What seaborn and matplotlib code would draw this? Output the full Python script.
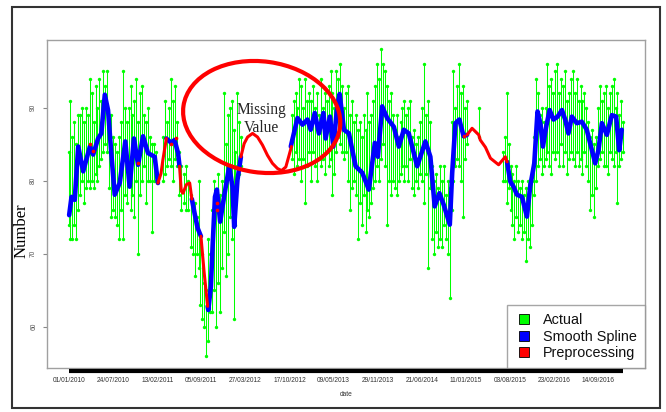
import numpy as np
import pandas as pd
import matplotlib
matplotlib.use("Agg")
import matplotlib.pyplot as plt
import matplotlib.transforms as mtransforms
import seaborn as sns
from matplotlib.patches import Ellipse, Rectangle
from matplotlib.lines import Line2D

# ---------------- data (days since 01/01/2010) ----------------
tick_days = [0, 204, 408, 612, 816, 1020, 1224, 1428, 1632, 1836, 2040, 2244, 2448]
tick_labels = ["01/01/2010", "24/07/2010", "13/02/2011", "05/09/2011", "27/03/2012",
               "17/10/2012", "09/05/2013", "29/11/2013", "21/06/2014", "11/01/2015",
               "03/08/2015", "23/02/2016", "14/09/2016"]
y_ticks = [60, 70, 80, 90]

actual_day = [0, 5, 14, 23, 32, 41, 50, 59, 68, 77, 86, 95, 104, 113, 122, 131, 140, 149, 158, 167,
              176, 185, 194, 203, 212, 221, 230, 239, 248, 257, 266, 275, 284, 293, 302, 311, 320, 329,
              338, 347, 356, 365, 374, 383, 392, 401, 436, 445, 454, 463, 472, 481, 490, 499, 510, 520,
              530, 540, 550, 563, 572, 581, 590, 599, 608, 617, 626, 635, 644, 653, 662, 671, 680, 689,
              698, 707, 716, 725, 734, 743, 752, 761, 770, 779, 788, 797,
              1030, 1039, 1048, 1057, 1066, 1075, 1084, 1093, 1102, 1111, 1120, 1129, 1138, 1147, 1156,
              1165, 1174, 1183, 1192, 1201, 1210, 1219, 1228, 1237, 1246, 1255, 1264, 1273, 1282, 1291,
              1300, 1309, 1318, 1327, 1336, 1345, 1354, 1363, 1372, 1381, 1390, 1399, 1408, 1417, 1426,
              1435, 1444, 1453, 1462, 1471, 1480, 1489, 1498, 1507, 1516, 1525, 1534, 1543, 1552, 1561,
              1570, 1579, 1588, 1597, 1606, 1615, 1624, 1633, 1642, 1651, 1660, 1669, 1680, 1689, 1698,
              1707, 1716, 1725, 1734, 1743, 1752, 1761, 1770, 1779, 1788, 1797, 1806, 1815, 1824, 1833,
              1842, 1897,
              2007, 2016, 2025, 2034, 2043, 2052, 2061, 2070, 2079, 2088, 2097, 2106, 2115, 2124, 2133,
              2142, 2151, 2160, 2169, 2178, 2187, 2196, 2205, 2214, 2223, 2232, 2241, 2250, 2259, 2268,
              2277, 2286, 2295, 2304, 2313, 2322, 2331, 2340, 2349, 2358, 2367, 2376, 2385, 2394, 2403,
              2412, 2421, 2430, 2439, 2448, 2457, 2466, 2475, 2484, 2493, 2502, 2511, 2520, 2529, 2538,
              2547, 2556, 2563]
actual_hi = [84, 91, 86, 88, 85, 89, 89, 90, 88, 90, 89, 94, 92, 88, 93, 90, 94, 91, 95, 93,
             95, 88, 89, 86, 85, 84, 86, 88, 95, 90, 88, 90, 93, 89, 91, 94, 88, 92,
             93, 89, 88, 90, 86, 85, 85, 84, 86, 91, 88, 90, 94, 91, 93, 88, 84, 82,
             81, 82, 80, 78, 77, 77, 75, 80, 72, 70, 66, 65, 72, 70, 76, 80, 78, 81,
             78, 80, 92, 85, 89, 90, 91, 87, 84, 92, 88, 86,
             89, 91, 92, 90, 94, 93, 90, 94, 91, 92, 91, 93, 90, 92, 89,
             94, 90, 92, 91, 93, 95, 92, 90, 95, 94, 96, 93, 90, 92, 93,
             89, 91, 88, 89, 87, 88, 86, 89, 87, 92, 88, 89, 91, 93, 96,
             94, 98, 96, 95, 93, 91, 92, 89, 87, 89, 86, 88, 90, 91, 89,
             90, 91, 86, 87, 85, 86, 88, 90, 96, 89, 91, 88, 82, 80, 81,
             79, 82, 80, 82, 78, 80, 79, 88, 95, 90, 93, 96, 92, 93, 90,
             91, 90,
             84, 86, 92, 85, 82, 81, 80, 82, 80, 79, 80, 78, 79, 80, 79,
             80, 86, 94, 92, 89, 90, 88, 90, 96, 93, 94, 92, 95, 96, 92,
             94, 93, 95, 91, 92, 94, 95, 92, 94, 91, 93, 91, 92, 90, 88,
             86, 87, 85, 86, 90, 93, 91, 92, 93, 90, 92, 93, 94, 90, 92,
             89, 91, 88]
actual_lo = [74, 72, 72, 74, 72, 76, 78, 80, 77, 79, 80, 79, 80, 79, 81, 80, 82, 83, 84, 85,
             84, 79, 75, 76, 75, 74, 72, 76, 72, 78, 77, 80, 76, 78, 75, 80, 70, 78,
             80, 82, 77, 80, 80, 73, 80, 80, 80, 81, 82, 83, 82, 80, 83, 82, 78, 76,
             77, 76, 76, 71, 70, 67, 70, 68, 63, 61, 60, 56, 58, 62, 62, 65, 60, 66,
             62, 68, 73, 67, 70, 75, 72, 61, 74, 82, 81, 82,
             83, 81, 84, 82, 83, 80, 83, 77, 82, 84, 80, 84, 82, 80, 83,
             82, 83, 81, 84, 82, 83, 78, 81, 84, 86, 85, 84, 83, 84, 80,
             76, 79, 80, 78, 72, 77, 74, 78, 73, 76, 75, 77, 79, 80, 82,
             80, 83, 85, 82, 74, 80, 78, 80, 79, 78, 80, 81, 82, 80, 82,
             80, 83, 79, 78, 80, 79, 81, 80, 77, 81, 68, 79, 72, 70, 73,
             71, 72, 71, 74, 72, 70, 64, 76, 80, 82, 83, 82, 80, 75, 83,
             85, 86,
             80, 80, 77, 79, 76, 74, 72, 75, 73, 74, 72, 73, 69, 72, 71,
             74, 78, 80, 82, 83, 81, 82, 83, 84, 82, 81, 84, 83, 84, 82,
             85, 82, 84, 81, 83, 84, 83, 82, 84, 82, 83, 81, 84, 82, 80,
             76, 78, 75, 79, 82, 83, 84, 82, 82, 81, 84, 83, 82, 84, 77,
             82, 83, 84]

# Smooth spline (blue), broken into observed stretches
spline_day = [0, 11, 26, 42, 65, 96, 111, 134, 149, 165, 180, 195, 211, 234, 260, 280, 300, 319, 342, 365, 396, 411,
              450, 473, 488, 504, 511,
              568, 581, 595, 610,
              641, 644, 656, 664, 675, 684, 699, 717, 741, 756, 764, 779, 795,
              1026, 1033, 1057, 1080, 1103, 1118, 1137, 1156, 1177, 1187, 1207, 1223, 1241, 1252, 1272, 1295,
              1326, 1357, 1387, 1415, 1429, 1449, 1472, 1503, 1526, 1549, 1572, 1611, 1649, 1672, 1692, 1714,
              1734, 1762, 1773, 1788, 1806, 1826, 1842,
              2027, 2042, 2057, 2073, 2096, 2119, 2134, 2153, 2168, 2181, 2193, 2208, 2224, 2242, 2261, 2281,
              2296, 2311, 2327, 2350, 2373, 2396, 2435, 2450, 2466, 2489, 2512, 2532, 2546, 2558]
spline_val = [75.3, 77.8, 77.4, 84.7, 81.3, 84.7, 83.6, 85.8, 86.5, 91.8, 89.7, 83.8, 78.1, 79.7, 85.4, 79.2, 85.8, 82.2, 86.1, 83.8, 83.3, 79.7,
              85.8, 85.2, 85.6, 83.8, 82.0,
              77.5, 75.5, 73.5, 72.4,
              62.8, 62.3, 65.5, 71.0, 77.8, 78.8, 74.4, 77.8, 82.0, 79.2, 73.7, 80.1, 83.3,
              84.7, 85.6, 88.6, 87.7, 88.4, 87.0, 89.3, 86.5, 89.3, 85.8, 88.8, 84.7, 90.2, 91.9, 87.0, 86.5,
              82.0, 81.1, 78.8, 85.2, 83.3, 90.2, 88.6, 87.4, 84.7, 87.0, 86.5, 82.0, 85.4, 83.3, 76.5, 78.3,
              76.7, 74.0, 81.1, 87.9, 88.4, 86.1, 86.3,
              82.6, 79.9, 79.2, 78.1, 77.8, 75.1, 79.2, 82.4, 89.5, 87.9, 84.7, 87.4, 89.7, 88.4, 88.8, 89.7,
              88.4, 86.5, 88.8, 87.9, 88.1, 87.0, 82.4, 84.2, 87.9, 86.3, 89.0, 88.8, 84.2, 87.0]
spline_seg = [1] * 22 + [2] * 5 + [3] * 4 + [4] * 13 + [5] * 39 + [6] * 30

# Preprocessing (red) stretches filling the gaps
prep_day = [411, 425, 434, 450,
            511, 519, 527, 543, 558, 568,
            610, 625, 641,
            795, 810, 826, 849, 872, 895, 918, 941, 964, 983, 1003, 1018, 1029,
            1842, 1865, 1896, 1903, 1927, 1950, 1988, 2019, 2027]
prep_val = [79.7, 81.0, 82.9, 85.8,
            82.0, 78.6, 78.3, 79.5, 79.7, 77.5,
            72.4, 67.4, 62.8,
            83.3, 85.1, 86.0, 86.5, 86.0, 84.9, 83.5, 82.4, 81.7, 81.4, 81.9, 83.5, 84.7,
            86.3, 87.2, 86.3, 85.6, 84.6, 83.1, 82.2, 83.3, 82.6]
prep_seg = [1] * 4 + [2] * 6 + [3] * 3 + [4] * 13 + [5] * 9

prep_dot_day = [96, 111, 319, 473, 493, 684, 684, 1826]
prep_dot_val = [85.1, 84.1, 82.4, 85.1, 85.9, 77.0, 76.0, 86.1]

# ---------------- figure ----------------
W, H = 666, 412
sns.set_style("white")
plt.rcParams["font.family"] = ["Liberation Sans", "DejaVu Sans"]

fig = plt.figure(figsize=(W / 100, H / 100), dpi=100)
ax = fig.add_axes([47 / W, 1 - 368 / H, (645 - 47) / W, (368 - 40) / H])

GREEN, BLUE, RED = "#00ff00", "#0000ff", "#ff0000"

ax.vlines(actual_day, actual_lo, actual_hi, color=GREEN, lw=0.75, zorder=1)
df_act = pd.DataFrame({"day": actual_day * 2, "val": actual_hi + actual_lo})
sns.scatterplot(data=df_act, x="day", y="val", color=GREEN, s=6, marker="o",
                linewidth=0, ax=ax, zorder=2, legend=False)

df_sp = pd.DataFrame({"day": spline_day, "val": spline_val, "seg": spline_seg})
sns.lineplot(data=df_sp, x="day", y="val", units="seg", estimator=None, sort=False,
             color=BLUE, lw=3.3, ax=ax, zorder=3, legend=False)

df_pr = pd.DataFrame({"day": prep_day, "val": prep_val, "seg": prep_seg})
sns.lineplot(data=df_pr, x="day", y="val", units="seg", estimator=None, sort=False,
             color=RED, lw=2.2, ax=ax, zorder=4, legend=False)
sns.scatterplot(x=prep_dot_day, y=prep_dot_val, color=RED, s=7, linewidth=0, ax=ax,
                zorder=5, legend=False)

# axes ranges (R style 4% padding)
xmin, xmax = min(actual_day), max(actual_day)
pad = 0.04 * (xmax - xmin)
ax.set_xlim(xmin - pad, xmax + pad)
ax.set_ylim(54.35, 99.3)

ax.set_xticks(tick_days)
ax.set_xticklabels(tick_labels)
ax.set_yticks(y_ticks)
ax.set_yticklabels([str(v) for v in y_ticks], rotation=90, va="center")
ax.tick_params(axis="x", length=0, pad=6.3, labelsize=4.8, labelcolor="#333333")
ax.tick_params(axis="y", left=True, length=2.9, width=0.8, color="#888888", pad=4.2,
               labelsize=4.8, labelcolor="#555555")
for sp in ax.spines.values():
    sp.set_color("#a0a0a0")
    sp.set_linewidth(1.0)

# dense daily tick band below the axis
trans = mtransforms.blended_transform_factory(ax.transData, ax.transAxes)
ax.plot([xmin, xmax], [-0.0095, -0.0095], transform=trans, color="black", lw=3.0,
        solid_capstyle="butt", clip_on=False, zorder=6)

ax.set_xlabel("date", fontsize=4.8, color="#333333", labelpad=5.0)
ax.set_ylabel("Number", fontsize=12, family=["Liberation Serif", "DejaVu Serif"], color="black")
ax.yaxis.set_label_coords(-0.029, 0.42)

# legend
handles = [Line2D([], [], marker="s", linestyle="None", markerfacecolor=c,
                  markeredgecolor="black", markeredgewidth=0.6, markersize=6.5)
           for c in (GREEN, BLUE, RED)]
leg = ax.legend(handles, ["Actual", "Smooth Spline", "Preprocessing"], loc="lower right",
                bbox_to_anchor=(1.0, 0.0), borderaxespad=0, fontsize=10.4, frameon=True,
                fancybox=False, edgecolor="#909090", borderpad=0.57, labelspacing=0.15,
                handlelength=1.2, handletextpad=0.72)
leg.get_frame().set_linewidth(1.0)
for t in leg.get_texts():
    t.set_color("#111111")

# annotation: red ellipse with "Missing Value"
ell = Ellipse((261.7 / 100, (H - 117) / 100), 1.58, 1.11, angle=-8,
              transform=fig.dpi_scale_trans, fill=False, edgecolor=RED, lw=3.0, zorder=10)
fig.add_artist(ell)
fig.text(261.7 / W, 1 - 119 / H, "Missing\nValue", ha="center", va="center", fontsize=11.2,
         family=["Liberation Serif", "DejaVu Serif"], linespacing=1.15, zorder=11)

# outer frame
fig.add_artist(Rectangle((12 / W, 1 - 408 / H), (660 - 12) / W, (408 - 7) / H,
                         transform=fig.transFigure, fill=False, edgecolor="#333333", lw=1.5))

fig.savefig("out.png", dpi=100)
